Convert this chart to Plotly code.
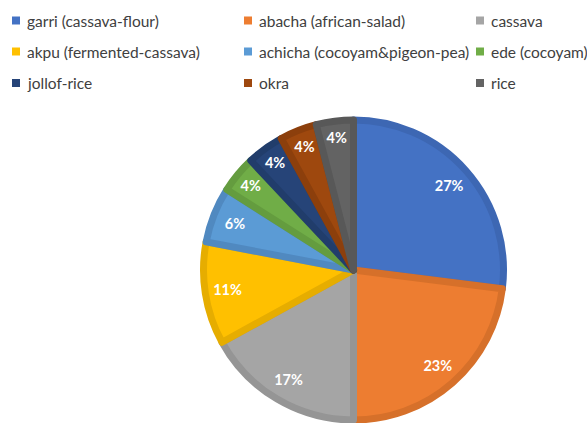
import plotly.graph_objects as go

# Share of each dish (percent)
dishes = [
    "garri (cassava-flour)", "abacha (african-salad)", "cassava",
    "akpu (fermented-cassava)", "achicha (cocoyam&pigeon-pea)", "ede (cocoyam)",
    "jollof-rice", "okra", "rice",
]
shares = [27, 23, 17, 11, 6, 4, 4, 4, 4]

fill_colors = ["#4472C4", "#ED7D31", "#A5A5A5", "#FFC000", "#5B9BD5",
               "#70AD47", "#264478", "#9E480E", "#636363"]
rim_colors = ["#3D67B3", "#D6702A", "#959595", "#E6AD00", "#5089C0",
              "#649C3F", "#213D6B", "#8C3F0C", "#585858"]

W, H = 587, 423
cx, cy, R = 353.5, 270.0, 150.0  # pie centre / radius in pixels

dom_x = [(cx - R) / W, (cx + R) / W]
dom_y = [(H - cy - R) / H, (H - cy + R) / H]

fig = go.Figure()

# Coloured slices with a darker rim
fig.add_trace(go.Pie(
    labels=dishes, values=shares, sort=False, direction="clockwise", rotation=0,
    marker=dict(colors=fill_colors, line=dict(color=rim_colors, width=7)),
    textinfo="none", hoverinfo="label+percent", showlegend=False,
    domain=dict(x=dom_x, y=dom_y),
))

# Transparent ring on top that carries the percentage labels near the rim
fig.add_trace(go.Pie(
    labels=dishes, values=shares, sort=False, direction="clockwise", rotation=0,
    hole=0.7,
    marker=dict(colors=["rgba(0,0,0,0)"] * len(dishes), line=dict(width=0)),
    texttemplate="%{percent:.0%}", textposition="inside",
    insidetextorientation="horizontal",
    textfont=dict(family="Lato", size=14.5, color="white", weight="bold"),
    hoverinfo="skip", showlegend=False,
    domain=dict(x=dom_x, y=dom_y),
))

# Three-column legend across the top
col_x = [12, 244, 476]
row_y = [20.5, 51.5, 83.0]
sw = 8
shapes, annots = [], []
for i, (name, col) in enumerate(zip(dishes, fill_colors)):
    x0 = col_x[i % 3]
    yc = row_y[i // 3]
    shapes.append(dict(
        type="rect", xref="paper", yref="paper",
        x0=x0 / W, x1=(x0 + sw) / W,
        y0=1 - (yc + sw / 2) / H, y1=1 - (yc - sw / 2) / H,
        fillcolor=col, line=dict(width=0),
    ))
    annots.append(dict(
        text=name, xref="paper", yref="paper",
        x=(x0 + sw + 5) / W, y=1 - yc / H, xanchor="left", yanchor="middle",
        showarrow=False, font=dict(family="Lato", size=15.5, color="#404040"),
    ))

fig.update_layout(
    width=W, height=H, margin=dict(l=0, r=0, t=0, b=0),
    paper_bgcolor="white", plot_bgcolor="white",
    shapes=shapes, annotations=annots,
)

fig.write_html("out.html")
